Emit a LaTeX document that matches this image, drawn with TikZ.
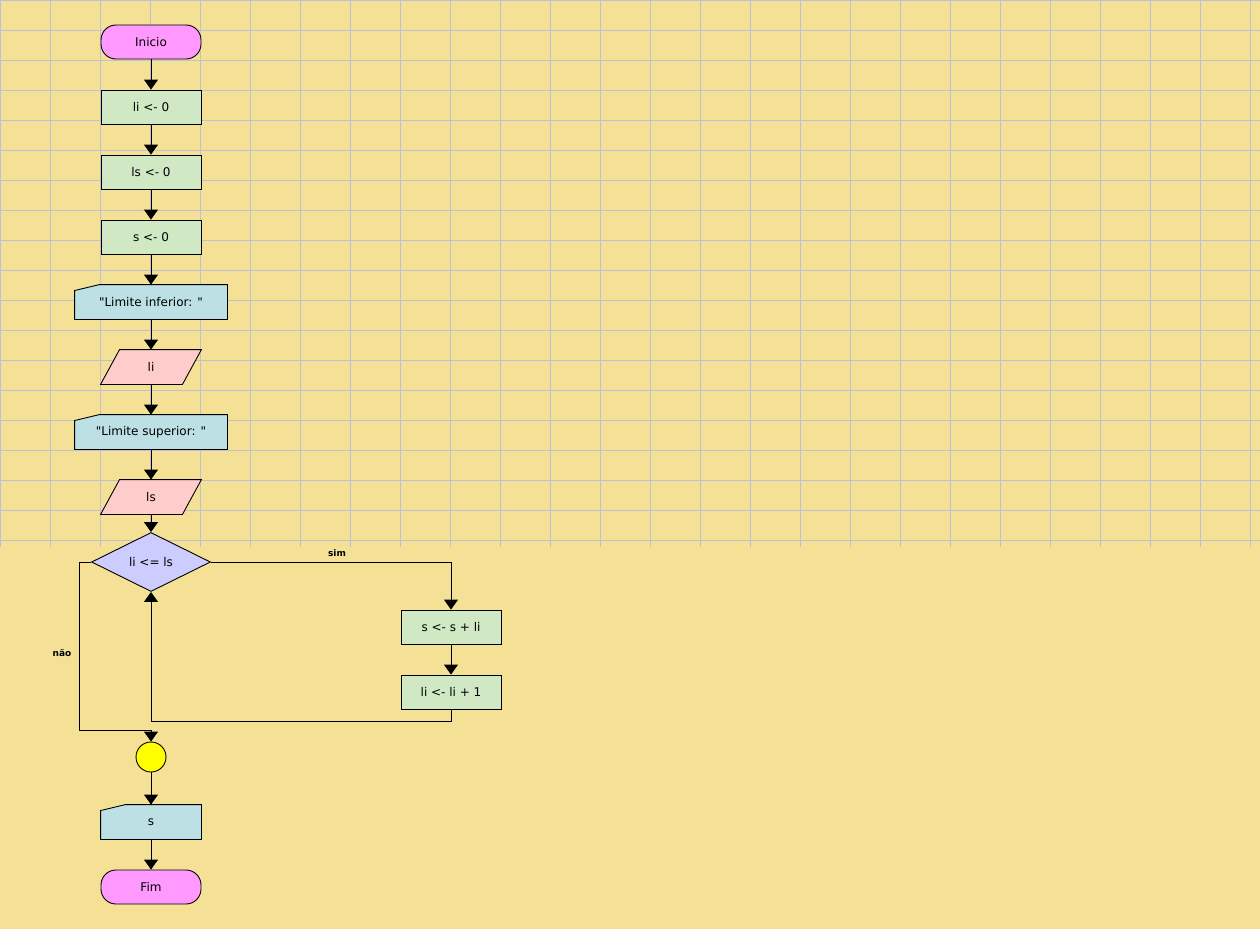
\documentclass[tikz,border=0pt]{standalone}
\usepackage{fontspec}
\setmainfont{DejaVu Sans}[Ligatures=TeXOff]
\usetikzlibrary{arrows.meta,shapes.geometric}
\pgfdeclarelayer{bg}
\pgfsetlayers{bg,main}
\definecolor{bgcol}{HTML}{F5E196}
\definecolor{gridcol}{HTML}{C0C0D4}
\definecolor{termcol}{HTML}{FF99FF}
\definecolor{proccol}{HTML}{D0E8C4}
\definecolor{outcol}{HTML}{BCE0E4}
\definecolor{incol}{HTML}{FFCCCC}
\definecolor{deccol}{HTML}{CCCCFF}
\definecolor{joincol}{HTML}{FFFF00}
\tikzset{
  base/.style={inner sep=0pt, font=\fontsize{12}{14}\selectfont, line width=0.9pt},
  term/.style={base, draw, fill=termcol, rounded corners=15pt, minimum width=100pt, minimum height=34pt},
  proc/.style={base, draw, fill=proccol, minimum width=100pt, minimum height=34pt},
  outbox/.style={base, minimum width=152pt, minimum height=34pt},
  outsmall/.style={base, minimum width=100pt, minimum height=34pt},
  inbox/.style={base, minimum width=100pt, minimum height=34pt},
  dec/.style={base, draw, fill=deccol, diamond, minimum width=119pt, minimum height=59pt},
  joinc/.style={base, draw, fill=joincol, circle, minimum size=30pt},
  lbl/.style={inner sep=0pt, font=\fontsize{9}{11}\selectfont\bfseries},
  arr/.style={line width=0.9pt, -{Triangle[width=14pt,length=10pt]}},
  ln/.style={line width=0.9pt},
}
\begin{document}
\begin{tikzpicture}[x=1pt,y=-1pt]
\useasboundingbox (0,0) rectangle (1260,929);
\begin{pgfonlayer}{bg}
\fill[bgcol] (0,0) rectangle (1260,929);
\foreach \gx in {0,50,...,1250} \draw[gridcol, line width=1pt] (\gx,0) -- (\gx,547);
\foreach \gy in {0,30,...,540} \draw[gridcol, line width=1pt] (0,\gy) -- (1260,\gy);
\end{pgfonlayer}

\node[term] (ini) at (151,42) {Inicio};
\node[proc] (p1) at (151,107) {li <- 0};
\node[proc] (p2) at (151,172) {ls <- 0};
\node[proc] (p3) at (151,237) {s <- 0};
\node[outbox] (o1) at (151,302) {"Limite inferior: "};
\node[inbox] (i1) at (151,367) {li};
\node[outbox] (o2) at (151,432) {"Limite superior: "};
\node[inbox] (i2) at (151,497) {ls};
\node[dec] (d) at (151,562) {li <= ls};
\node[proc] (b1) at (451,627) {s <- s + li};
\node[proc] (b2) at (451,692) {li <- li + 1};
\node[joinc] (c) at (151,757) {};
\node[outsmall] (o3) at (151,822) {s};
\node[term] (fim) at (151,887) {Fim};

\node[lbl] (simlbl) at (337,553) {sim};
\node[lbl] (naolbl) at (62,653) {não};

\begin{pgfonlayer}{bg}
\foreach \o in {o1,o2,o3}
  \draw[ln, fill=outcol] (\o.south west) -- (\o.south east) -- (\o.north east)
    -- ([xshift=25pt]\o.north west) -- ([yshift=-6pt]\o.north west) -- cycle;
\foreach \i in {i1,i2}
  \draw[ln, fill=incol] (\i.south west) -- ([xshift=-19pt]\i.south east) -- (\i.north east)
    -- ([xshift=19pt]\i.north west) -- cycle;
\end{pgfonlayer}

\draw[arr] (ini) -- (p1);
\draw[arr] (p1) -- (p2);
\draw[arr] (p2) -- (p3);
\draw[arr] (p3) -- (o1);
\draw[arr] (o1) -- (i1);
\draw[arr] (i1) -- (o2);
\draw[arr] (o2) -- (i2);
\draw[arr] (i2) -- (d);
\draw[arr] (d.east) -| (b1.north);
\draw[arr] (b1) -- (b2);
\coordinate (loopc) at (451,721);
\draw[arr] (b2.south) -- (loopc) -| (d.south);
\coordinate (nj) at (79,730);
\draw[arr] (d.west) -| (nj) -| (c.north);
\draw[arr] (c) -- (o3);
\draw[arr] (o3) -- (fim);
\end{tikzpicture}
\end{document}
